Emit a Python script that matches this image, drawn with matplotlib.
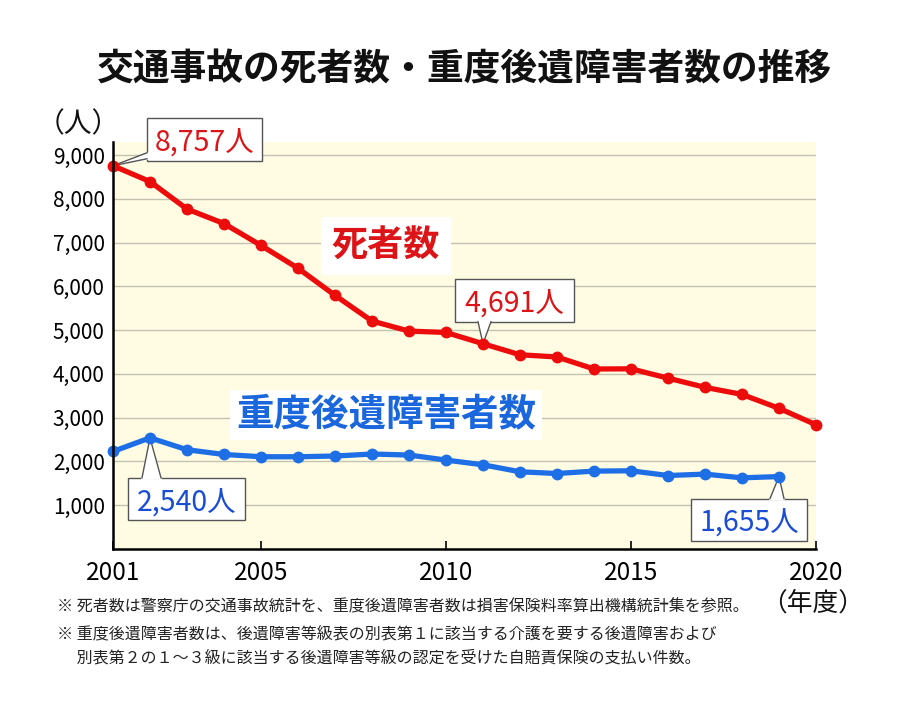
import matplotlib
matplotlib.use('Agg')
import matplotlib.pyplot as plt
from matplotlib.transforms import ScaledTranslation
from matplotlib.patches import Rectangle, Polygon
from matplotlib.lines import Line2D

plt.rcParams['font.family'] = ['Noto Sans CJK JP', 'DejaVu Sans']

# ---- data ----
years = list(range(2001, 2021))
deaths = [8757, 8396, 7768, 7436, 6937, 6415, 5796, 5209, 4979, 4948,
          4691, 4438, 4388, 4113, 4117, 3904, 3694, 3532, 3215, 2839]
severe_years = list(range(2001, 2020))
severe = [2229, 2540, 2268, 2160, 2108, 2108, 2124, 2170, 2147, 2032,
          1924, 1764, 1725, 1780, 1787, 1679, 1711, 1626, 1655]
yticks = [1000, 2000, 3000, 4000, 5000, 6000, 7000, 8000, 9000]
ytick_labels = ['1,000', '2,000', '3,000', '4,000', '5,000', '6,000', '7,000', '8,000', '9,000']
xticks = [2001, 2005, 2010, 2015, 2020]
xtick_labels = ['2001', '2005', '2010', '2015', '2020']

title = '交通事故の死者数・重度後遺障害者数の推移'
label_deaths = '死者数'
label_severe = '重度後遺障害者数'
unit_y = '（人）'
unit_x = '（年度）'
notes = ['※ 死者数は警察庁の交通事故統計を、重度後遺障害者数は損害保険料率算出機構統計集を参照。',
         '※ 重度後遺障害者数は、後遺障害等級表の別表第１に該当する介護を要する後遺障害および',
         '　 別表第２の１～３級に該当する後遺障害等級の認定を受けた自賠責保険の支払い件数。']

RED = '#ec0c0c'
RED_TXT = '#dc1418'
BLUE = '#1e6fe6'
BLUE_TXT = '#1a4cd4'
BLUE_LBL = '#1a66dc'

W, H = 907, 702
fig = plt.figure(figsize=(W / 100, H / 100), dpi=100)
fig.patch.set_facecolor('white')
ax = fig.add_axes([113 / W, 1 - 549 / H, (816 - 113) / W, (549 - 142) / H])
ax.set_facecolor('#fffce3')
ax.set_xlim(2001, 2020)
ax.set_ylim(0, 9300)

for s in ['top', 'right']:
    ax.spines[s].set_visible(False)
for s in ['left', 'bottom']:
    ax.spines[s].set_linewidth(1.8)
    ax.spines[s].set_color('black')
    ax.spines[s].set_zorder(5)

ax.set_yticks(yticks)
ax.set_yticklabels(ytick_labels, fontsize=15)
ax.set_xticks(xticks)
ax.set_xticklabels(xtick_labels, fontsize=17.5)
ax.tick_params(axis='y', length=0, pad=6)
ax.tick_params(axis='x', direction='in', length=6, width=1.2, pad=8)
ax.grid(axis='y', color='#c4c2b0', linewidth=1.0, zorder=1)
ax.set_axisbelow(True)

ax.plot(years, deaths, color=RED, lw=3.8, marker='o', ms=7.5, zorder=3, clip_on=False)
ax.plot(severe_years, severe, color=BLUE, lw=3.8, marker='o', ms=7.5, zorder=3, clip_on=False)

dpi = fig.dpi


def callout(x, y, text, color, box, tail):
    tr = fig.dpi_scale_trans + ScaledTranslation(x, y, ax.transData)
    x0, x1, y0, y1 = box
    ax.add_patch(Rectangle((x0 / dpi, y0 / dpi), (x1 - x0) / dpi, (y1 - y0) / dpi,
                           transform=tr, fc='white', ec='#555555', lw=1.0,
                           zorder=2.6, clip_on=False))
    (bx1, by1), (bx2, by2), (ibx1, iby1), (ibx2, iby2) = tail
    ax.add_patch(Polygon([(ibx1 / dpi, iby1 / dpi), (0, 0), (ibx2 / dpi, iby2 / dpi)],
                         closed=True, transform=tr, fc='white', ec='none',
                         zorder=2.7, clip_on=False))
    for bx, by in [(bx1, by1), (bx2, by2)]:
        ax.add_line(Line2D([bx / dpi, 0], [by / dpi, 0], transform=tr, color='#555555',
                           lw=1.0, zorder=2.7, clip_on=False))
    ax.text((x0 + x1) / 2 / dpi, (y0 + y1) / 2 / dpi, text, transform=tr,
            ha='center', va='center_baseline', fontsize=20.5, color=color, zorder=2.8,
            clip_on=False)


# 8,757 (2001)
callout(years[0], deaths[0], f'{deaths[0]:,}人', RED_TXT,
        (34, 149, 5, 48), [(34, 13), (34, 7), (36, 14), (36, 6)])
# 4,691 (2011)
callout(years[10], deaths[10], f'{deaths[10]:,}人', RED_TXT,
        (-28, 91, 22, 65), [(-5, 22), (8, 22), (-6, 24), (9, 24)])
# 2,540 (2002)
callout(severe_years[1], severe[1], f'{severe[1]:,}人', BLUE_TXT,
        (-22, 95, -82, -40), [(-8, -40), (11, -40), (-9, -42), (12, -42)])
# 1,655 (2019)
callout(severe_years[-1], severe[-1], f'{severe[-1]:,}人', BLUE_TXT,
        (-88, 28, -64, -22), [(-9, -22), (5, -22), (-10, -24), (6, -24)])

ax.text((386 - 113) / 703, (549 - 242) / 407, label_deaths, transform=ax.transAxes,
        ha='center', va='center_baseline', fontsize=26, color=RED_TXT, fontweight='bold',
        bbox=dict(boxstyle='square,pad=0.3', fc='white', ec='none'), zorder=2.5)
ax.text((386 - 113) / 703, (549 - 411) / 407, label_severe, transform=ax.transAxes,
        ha='center', va='center_baseline', fontsize=27, color=BLUE_LBL, fontweight='bold',
        bbox=dict(boxstyle='square,pad=0.15', fc='white', ec='none'), zorder=2.5)

fig.text(464 / W, 1 - 70 / H, title, ha='center', va='center', fontsize=26.5,
         fontweight='bold', color='#111111')
fig.text(78 / W, 1 - 124 / H, unit_y, ha='center', va='center', fontsize=20, color='#111111')
fig.text(813 / W, 1 - 604 / H, unit_x, ha='center', va='center', fontsize=18.5, color='#111111')

fig.text(57 / W, 1 - 607 / H, notes[0], ha='left', va='center', fontsize=11.5, color='#222222')
fig.text(57 / W, 1 - 634 / H, notes[1], ha='left', va='center', fontsize=11.5, color='#222222')
fig.text(57 / W, 1 - 658 / H, notes[2], ha='left', va='center', fontsize=11.5, color='#222222')

fig.savefig('out.png', dpi=100)
